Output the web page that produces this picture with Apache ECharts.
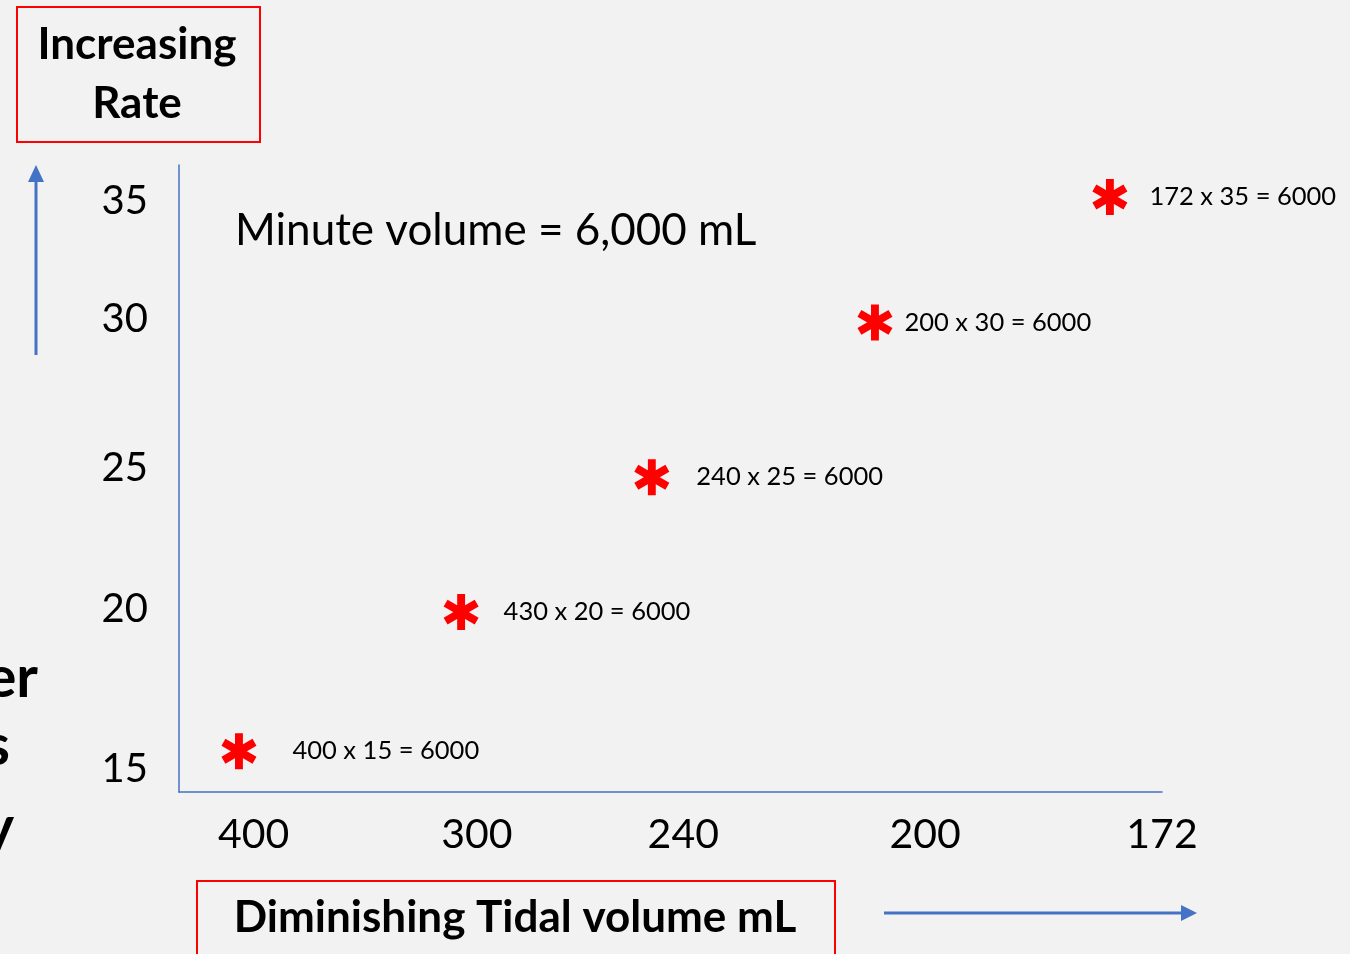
<!DOCTYPE html>
<html>
<head>
<meta charset="utf-8">
<title>Minute volume</title>
<script src="https://cdn.jsdelivr.net/npm/echarts@6/dist/echarts.min.js"></script>
<style>
  html, body { margin: 0; padding: 0; background: #f2f2f2; }
  #chart { width: 1350px; height: 954px; }
</style>
</head>
<body>
<div id="chart"></div>
<script>
// tick labels (the slide spaces them unevenly, so each has its own position on a 0-100 scale)
var xTicks = ['400', '300', '240', '200', '172'];
var xTickPos = [7.6, 30.3, 51.3, 75.9, 100];
var yTicks = ['15', '20', '25', '30', '35'];
var yTickPos = [3.7, 29.2, 51.7, 75.5, 94.2];

// points: tidal volume x rate, as written on the slide
var tidal = [400, 430, 240, 200, 172];
var rate = [15, 20, 25, 30, 35];
var minuteVolume = 6000;
var pointX = [6.1, 28.7, 48.1, 70.8, 94.7];
var pointY = [6.5, 28.7, 50.2, 74.9, 94.9];

// gap between star and its text, differs a bit per point on the slide
var labelGap = [36, 25, 27, 12, 22];

var BLUE = '#4472c4';
var FONT = 'Lato';

var star = 'path://M39 0L61 0L61 100L39 100Z' +
  'M87.8 84.5L1.2 34.5L12.2 15.5L98.8 65.5Z' +
  'M98.8 34.5L12.2 84.5L1.2 65.5L87.8 15.5Z';

function tickName(list, pos, v) {
  for (var i = 0; i < pos.length; i++) {
    if (Math.abs(pos[i] - v) < 1e-6) return list[i];
  }
  return '';
}

var data = [];
for (var i = 0; i < tidal.length; i++) {
  data.push({
    value: [pointX[i], pointY[i]],
    label: { distance: labelGap[i] },
    text: tidal[i] + ' x ' + rate[i] + ' = ' + minuteVolume
  });
}

var chart = echarts.init(document.getElementById('chart'));

chart.setOption({
  backgroundColor: '#f2f2f2',
  animation: false,
  textStyle: { fontFamily: FONT },
  grid: { left: 179, right: 188, top: 165, bottom: 162 },
  xAxis: {
    type: 'value',
    min: 0,
    max: 100,
    splitLine: { show: false },
    axisTick: { show: false },
    axisLine: { show: true, lineStyle: { color: BLUE, width: 1.5 } },
    axisLabel: {
      customValues: xTickPos,
      showMinLabel: true,
      showMaxLabel: true,
      hideOverlap: false,
      margin: 22,
      fontSize: 41,
      fontFamily: FONT,
      color: '#000',
      formatter: function (v) { return tickName(xTicks, xTickPos, v); }
    }
  },
  yAxis: {
    type: 'value',
    min: 0,
    max: 100,
    splitLine: { show: false },
    axisTick: { show: false },
    axisLine: { show: true, lineStyle: { color: BLUE, width: 1.5 } },
    axisLabel: {
      customValues: yTickPos,
      showMinLabel: true,
      showMaxLabel: true,
      hideOverlap: false,
      margin: 31,
      fontSize: 40,
      fontFamily: FONT,
      color: '#000',
      formatter: function (v) { return tickName(yTicks, yTickPos, v); }
    }
  },
  series: [{
    type: 'scatter',
    symbol: star,
    symbolSize: [35, 36],
    itemStyle: { color: '#ff0000', opacity: 1 },
    label: {
      show: true,
      position: 'right',
      fontSize: 25.5,
      fontFamily: FONT,
      color: '#000',
      formatter: function (p) { return p.data.text; }
    },
    data: data
  }],
  graphic: [
    // Increasing Rate box
    {
      type: 'rect', left: 16, top: 6,
      shape: { width: 243, height: 135 },
      style: { fill: 'transparent', stroke: '#ff0000', lineWidth: 2 }
    },
    {
      type: 'text', x: 137, y: 45,
      style: { text: 'Increasing', fontSize: 44, fontWeight: 'bold', fontFamily: FONT, fill: '#000', align: 'center', verticalAlign: 'middle' }
    },
    {
      type: 'text', x: 137, y: 104,
      style: { text: 'Rate', fontSize: 44, fontWeight: 'bold', fontFamily: FONT, fill: '#000', align: 'center', verticalAlign: 'middle' }
    },
    // vertical arrow
    {
      type: 'line',
      shape: { x1: 36, y1: 355, x2: 36, y2: 178 },
      style: { stroke: BLUE, lineWidth: 3 }
    },
    {
      type: 'polygon',
      shape: { points: [[36, 165], [28, 182], [44, 182]] },
      style: { fill: BLUE }
    },
    // title text inside plot
    {
      type: 'text', x: 235, y: 231,
      style: { text: 'Minute volume = 6,000 mL', fontSize: 44, fontFamily: FONT, fill: '#000', verticalAlign: 'middle' }
    },
    // Diminishing Tidal volume box
    {
      type: 'rect', left: 196, top: 880,
      shape: { width: 638, height: 90 },
      style: { fill: 'transparent', stroke: '#ff0000', lineWidth: 2 }
    },
    {
      type: 'text', x: 515, y: 918,
      style: { text: 'Diminishing Tidal volume mL', fontSize: 44, fontWeight: 'bold', fontFamily: FONT, fill: '#000', align: 'center', verticalAlign: 'middle' }
    },
    // horizontal arrow
    {
      type: 'line',
      shape: { x1: 884, y1: 913, x2: 1183, y2: 913 },
      style: { stroke: BLUE, lineWidth: 3 }
    },
    {
      type: 'polygon',
      shape: { points: [[1197, 913], [1181, 905], [1181, 921]] },
      style: { fill: BLUE }
    },
    // cut-off slide text on the left edge
    {
      type: 'text', x: 38, y: 678,
      style: { text: 'er', fontSize: 58, fontWeight: 'bold', fontFamily: FONT, fill: '#000', align: 'right', verticalAlign: 'middle' }
    },
    {
      type: 'text', x: 10, y: 746,
      style: { text: 's', fontSize: 58, fontWeight: 'bold', fontFamily: FONT, fill: '#000', align: 'right', verticalAlign: 'middle' }
    },
    {
      type: 'text', x: 14, y: 828,
      style: { text: 'y', fontSize: 58, fontWeight: 'bold', fontFamily: FONT, fill: '#000', align: 'right', verticalAlign: 'middle' }
    }
  ]
});
</script>
</body>
</html>
